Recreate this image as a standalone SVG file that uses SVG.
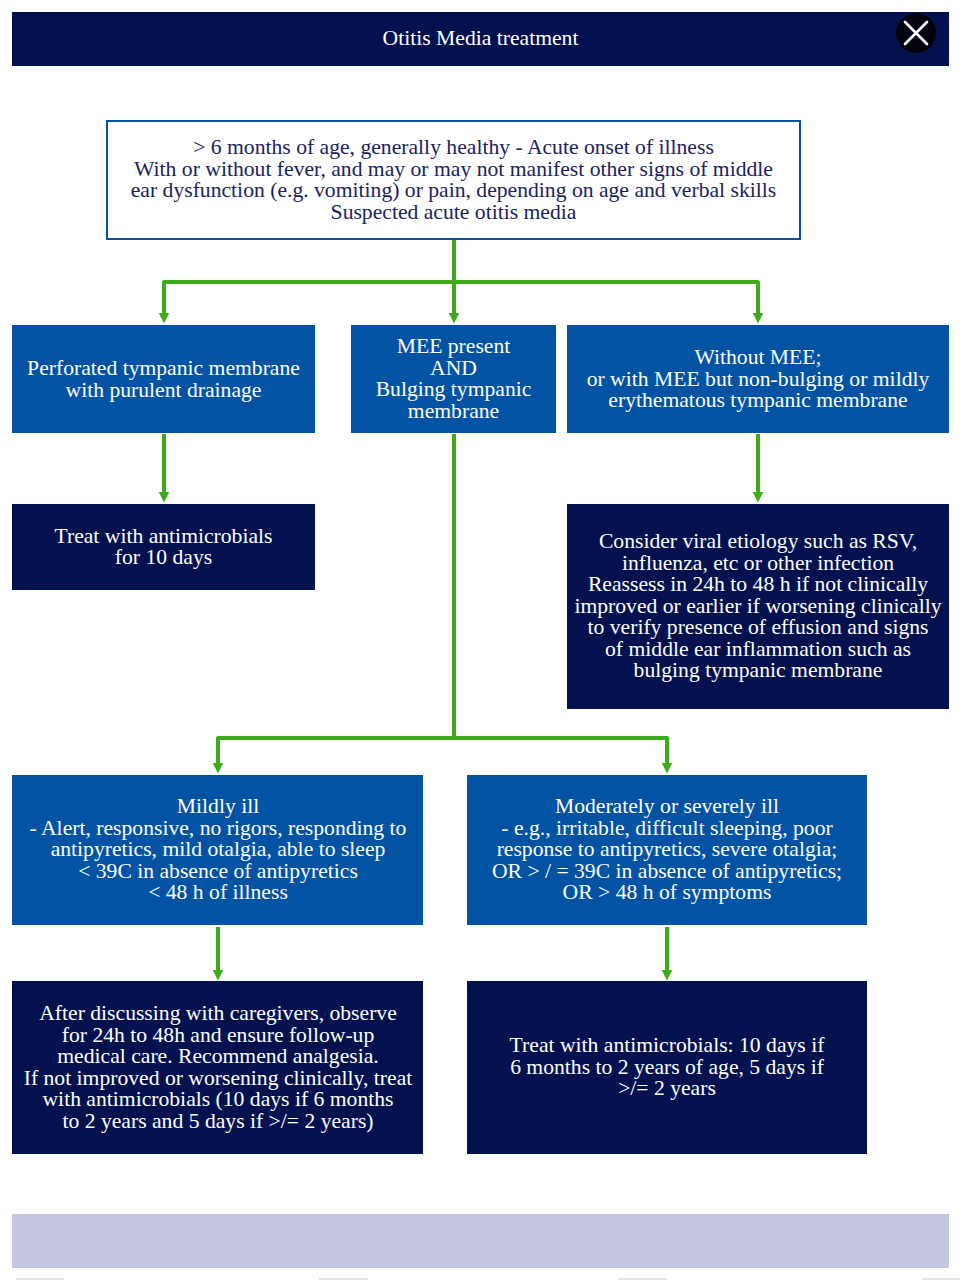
<svg xmlns="http://www.w3.org/2000/svg" width="960" height="1280" viewBox="0 0 960 1280">
<style>
text{font-family:"Liberation Serif","Times New Roman",serif;font-size:21.65px;text-anchor:middle}
.l{fill:#fff}
.d{fill:#1a2360}
.b{fill:#0353a4}
.n{fill:#03124f}
.c{fill:none;stroke:#3cab1c;stroke-width:4;stroke-linejoin:round}
.k{stroke:#fff;stroke-width:2.6;stroke-linecap:round}
.g{fill:#e4e4e8}
</style>
<defs><marker id="a" markerUnits="userSpaceOnUse" markerWidth="12" markerHeight="12" refX="5.5" refY="5.5" orient="auto"><path d="M0 0L11 5.5L0 11Z" fill="#3cab1c"/></marker></defs>
<rect width="960" height="1280" fill="#fff"/>
<g id="header"><rect class="n" x="12" y="12" width="937" height="54"/><text class="l" x="480.500" y="45">Otitis Media treatment</text></g>
<g id="close"><circle cx="916" cy="33" r="20" fill="#02030f"/><path class="k" d="M905 22L927 44M927 22L905 44"/></g>
<g id="connectors">
<path class="c" d="M454 240V282"/>
<path class="c" d="M164 318V282H758V318" marker-end="url(#a)"/>
<path class="c" d="M164 282V318" marker-end="url(#a)"/>
<path class="c" d="M454 282V318" marker-end="url(#a)"/>
<path class="c" d="M164 434V497" marker-end="url(#a)"/>
<path class="c" d="M758 434V497" marker-end="url(#a)"/>
<path class="c" d="M454 434V738"/>
<path class="c" d="M218 768V738H667V768" marker-end="url(#a)"/>
<path class="c" d="M218 738V768" marker-end="url(#a)"/>
<path class="c" d="M218 927V975" marker-end="url(#a)"/>
<path class="c" d="M667 927V975" marker-end="url(#a)"/>
</g>
<g id="start"><rect x="107" y="121" width="693" height="118" fill="#fff" stroke="#0353a4" stroke-width="2"/>
<text class="d" x="453.500" y="154">&gt; 6 months of age, generally healthy - Acute onset of illness</text>
<text class="d" x="453.500" y="175.500">With or without fever, and may or may not manifest other signs of middle</text>
<text class="d" x="453.500" y="197">ear dysfunction (e.g. vomiting) or pain, depending on age and verbal skills</text>
<text class="d" x="453.500" y="218.500">Suspected acute otitis media</text></g>
<g id="perforated"><rect class="b" x="12" y="325" width="303" height="108"/>
<text class="l" x="163.500" y="375">Perforated tympanic membrane</text><text class="l" x="163.500" y="396.500">with purulent drainage</text></g>
<g id="mee"><rect class="b" x="351" y="325" width="205" height="108"/>
<text class="l" x="453.500" y="353">MEE present</text><text class="l" x="453.500" y="374.500">AND</text><text class="l" x="453.500" y="396">Bulging tympanic</text><text class="l" x="453.500" y="417.500">membrane</text></g>
<g id="without"><rect class="b" x="567" y="325" width="382" height="108"/>
<text class="l" x="758" y="364">Without MEE;</text><text class="l" x="758" y="385.500">or with MEE but non-bulging or mildly</text><text class="l" x="758" y="407">erythematous tympanic membrane</text></g>
<g id="treat10"><rect class="n" x="12" y="504" width="303" height="86"/>
<text class="l" x="163.500" y="542.500">Treat with antimicrobials</text><text class="l" x="163.500" y="564">for 10 days</text></g>
<g id="viral"><rect class="n" x="567" y="504" width="382" height="205"/>
<text class="l" x="758" y="548">Consider viral etiology such as RSV,</text>
<text class="l" x="758" y="569.500">influenza, etc or other infection</text>
<text class="l" x="758" y="591">Reassess in 24h to 48 h if not clinically</text>
<text class="l" x="758" y="612.500">improved or earlier if worsening clinically</text>
<text class="l" x="758" y="634">to verify presence of effusion and signs</text>
<text class="l" x="758" y="655.500">of middle ear inflammation such as</text>
<text class="l" x="758" y="677">bulging tympanic membrane</text></g>
<g id="mild"><rect class="b" x="12" y="775" width="411" height="150"/>
<text class="l" x="218" y="813">Mildly ill</text>
<text class="l" x="218" y="834.500">- Alert, responsive, no rigors, responding to</text>
<text class="l" x="218" y="856">antipyretics, mild otalgia, able to sleep</text>
<text class="l" x="218" y="877.500">&lt; 39C in absence of antipyretics</text>
<text class="l" x="218" y="899">&lt; 48 h of illness</text></g>
<g id="moderate"><rect class="b" x="467" y="775" width="400" height="150"/>
<text class="l" x="667" y="813">Moderately or severely ill</text>
<text class="l" x="667" y="834.500">- e.g., irritable, difficult sleeping, poor</text>
<text class="l" x="667" y="856">response to antipyretics, severe otalgia;</text>
<text class="l" x="667" y="877.500">OR &gt; / = 39C in absence of antipyretics;</text>
<text class="l" x="667" y="899">OR &gt; 48 h of symptoms</text></g>
<g id="observe"><rect class="n" x="12" y="981" width="411" height="173"/>
<text class="l" x="218" y="1020">After discussing with caregivers, observe</text>
<text class="l" x="218" y="1041.500">for 24h to 48h and ensure follow-up</text>
<text class="l" x="218" y="1063">medical care. Recommend analgesia.</text>
<text class="l" x="218" y="1084.500">If not improved or worsening clinically, treat</text>
<text class="l" x="218" y="1106">with antimicrobials (10 days if 6 months</text>
<text class="l" x="218" y="1127.500">to 2 years and 5 days if &gt;/= 2 years)</text></g>
<g id="treat"><rect class="n" x="467" y="981" width="400" height="173"/>
<text class="l" x="667" y="1052">Treat with antimicrobials: 10 days if</text>
<text class="l" x="667" y="1073.500">6 months to 2 years of age, 5 days if</text>
<text class="l" x="667" y="1095">&gt;/= 2 years</text></g>
<g id="footer"><rect x="12" y="1214" width="937" height="54" fill="#c5c7e2"/>
<rect class="g" x="16" y="1278" width="48" height="2"/><rect class="g" x="319" y="1278" width="49" height="2"/><rect class="g" x="618" y="1278" width="49" height="2"/><rect class="g" x="922" y="1278" width="38" height="2"/></g>
</svg>
